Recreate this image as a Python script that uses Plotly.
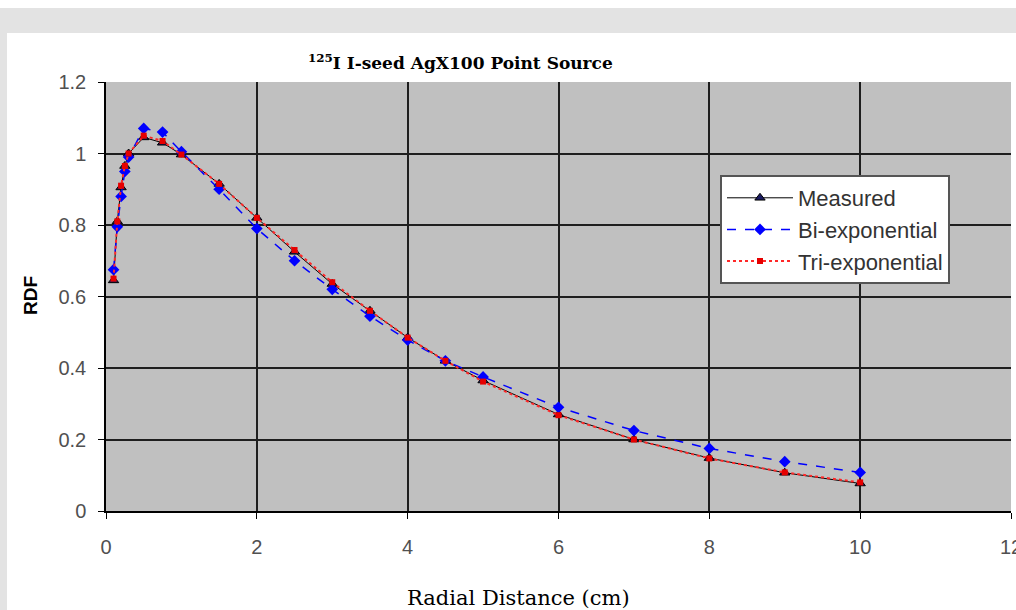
import plotly.graph_objects as go

# radial distance (cm)
r = [0.1, 0.15, 0.2, 0.25, 0.3, 0.5, 0.75, 1, 1.5, 2, 2.5, 3, 3.5, 4, 4.5, 5, 6, 7, 8, 9, 10]

measured = [0.645, 0.81, 0.905, 0.965, 1.0, 1.045, 1.03, 0.997, 0.915, 0.82, 0.725, 0.635,
            0.56, 0.485, 0.42, 0.365, 0.27, 0.2, 0.148, 0.107, 0.077]
bi_exp = [0.675, 0.795, 0.88, 0.95, 0.99, 1.07, 1.06, 1.005, 0.9, 0.79, 0.70, 0.62,
          0.545, 0.478, 0.42, 0.375, 0.29, 0.225, 0.175, 0.138, 0.108]
tri_exp = [0.65, 0.81, 0.91, 0.965, 1.0, 1.05, 1.035, 0.997, 0.915, 0.82, 0.73, 0.64,
           0.56, 0.485, 0.42, 0.362, 0.268, 0.2, 0.147, 0.108, 0.08]

# plot area in pixels, used to place the frame decorations
W, H = 1016, 610
L, R, T, B = 106, 1011, 82, 511


def px(x):
    return (x - L) / (R - L)


def py(y):
    return (B - y) / (B - T)


fig = go.Figure([
    go.Scatter(
        name="Measured", x=r, y=measured, mode="lines+markers", legendgroup="m",
        line=dict(color="black", width=1),
        marker=dict(symbol="triangle-up", size=9, color="#1a1a60",
                    line=dict(color="black", width=1))
    ),
    go.Scatter(
        name="Bi-exponential", x=r, y=bi_exp, mode="lines+markers", legendgroup="b",
        line=dict(color="rgb(0,0,255)", width=1.5, dash="dash"),
        marker=dict(symbol="diamond", size=9, color="rgb(0,0,255)")
    ),
    go.Scatter(
        name="Tri-exponential", x=r, y=tri_exp, mode="lines+markers", legendgroup="t",
        line=dict(color="rgb(255,40,40)", width=2, dash="dot"),
        marker=dict(symbol="square", size=6, color="rgb(230,0,0)")
    ),
])

axis_font = dict(family="Liberation Sans, Arial", size=20, color="#505050")

fig.update_layout(
    width=W, height=H,
    margin=dict(l=L, r=W - R, t=T, b=H - B, autoexpand=False),
    paper_bgcolor="white",
    plot_bgcolor="#c0c0c0",
    showlegend=True,
    legend=dict(
        x=px(720), y=py(175), xanchor="left", yanchor="top",
        bgcolor="white", bordercolor="#555555", borderwidth=2,
        font=dict(family="Liberation Sans, Arial", size=22, color="#333333"),
        itemwidth=66, traceorder="grouped", tracegroupgap=0,
    ),
    xaxis=dict(
        range=[0, 12], dtick=2, tickfont=axis_font, ticklabelstandoff=11,
        ticklabeloverflow="allow", automargin=False,
        showgrid=True, gridcolor="#1e1e1e", gridwidth=1.5,
        showline=True, linecolor="black", linewidth=1.5,
        ticks="outside", ticklen=6, tickcolor="black", zeroline=False,
    ),
    yaxis=dict(
        range=[0, 1.2], dtick=0.2, tickfont=axis_font, ticklabelstandoff=8,
        automargin=False,
        showgrid=True, gridcolor="#1e1e1e", gridwidth=1.5,
        showline=True, linecolor="black", linewidth=1.5,
        ticks="outside", ticklen=6, tickcolor="black", zeroline=False,
    ),
    shapes=[
        dict(type="rect", xref="paper", yref="paper", layer="below",
             x0=px(0), x1=px(W + 5), y0=py(33), y1=py(8),
             fillcolor="#e3e3e3", line=dict(width=0)),
        dict(type="rect", xref="paper", yref="paper", layer="below",
             x0=px(0), x1=px(7), y0=py(H + 5), y1=py(33),
             fillcolor="#e3e3e3", line=dict(width=0)),
    ],
    annotations=[
        dict(text="<b><sup>125</sup>I I-seed AgX100 Point Source</b>",
             xref="paper", yref="paper", x=px(460), y=py(62),
             xanchor="center", yanchor="middle",
             showarrow=False, font=dict(family="DejaVu Serif", size=17, color="black")),
        dict(text="Radial Distance (cm)",
             xref="paper", yref="paper", x=px(518), y=py(598),
             xanchor="center", yanchor="middle",
             showarrow=False, font=dict(family="DejaVu Serif", size=21, color="black")),
        dict(text="<b>RDF</b>", textangle=-90,
             xref="paper", yref="paper", x=px(30), y=py(296),
             xanchor="center", yanchor="middle",
             showarrow=False, font=dict(family="Liberation Sans, Arial", size=19, color="black")),
    ],
)

fig.write_html(
    "out.html",
    config={"displayModeBar": False, "responsive": False},
    post_script="document.body.style.margin='0px';"
                "document.body.style.overflow='hidden';"
                "document.documentElement.style.overflow='hidden';",
)
